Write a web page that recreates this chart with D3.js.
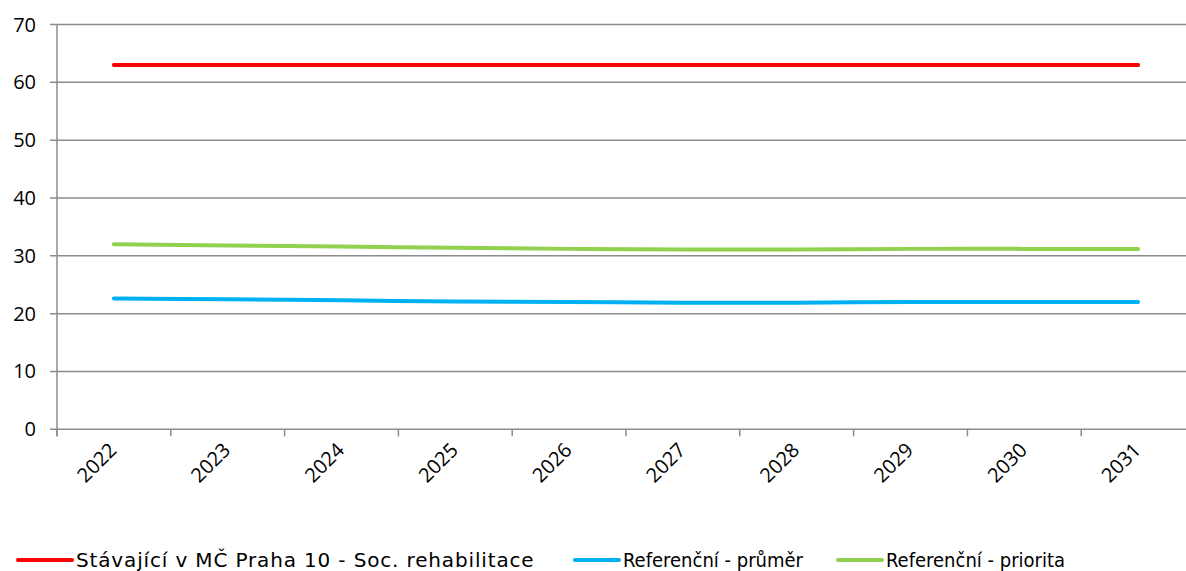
<!DOCTYPE html>
<html>
<head>
<meta charset="utf-8">
<script src="https://cdn.jsdelivr.net/npm/d3@7"></script>
<style>
  body { margin: 0; background: #fff; }
  svg { display: block; font-family: "Open Sans", sans-serif; }
</style>
</head>
<body>
<div id="drawing_region"></div>
<script>
const years = ["2022", "2023", "2024", "2025", "2026", "2027", "2028", "2029", "2030", "2031"];
const stavajici = [63, 63, 63, 63, 63, 63, 63, 63, 63, 63];
const prumer = [22.6, 22.5, 22.3, 22.1, 22.0, 21.9, 21.9, 22.0, 22.0, 22.0];
const priorita = [32.0, 31.8, 31.6, 31.4, 31.2, 31.1, 31.1, 31.2, 31.2, 31.2];
const yTicks = [0, 10, 20, 30, 40, 50, 60, 70];

const seriesNames = ["Stávající v MČ Praha 10 - Soc. rehabilitace", "Referenční - průměr", "Referenční - priorita"];
const seriesValues = [stavajici, prumer, priorita];
const colors = ["#ff0000", "#00b0f0", "#92d050"];

const width = 1186, height = 571;
const margin = {top: 24.5, left: 57, bottom: 142};
const plotRight = 1195;

const svg = d3.select('#drawing_region').append('svg')
    .attr('width', width)
    .attr('height', height);

const xscale = d3.scaleBand().domain(years).range([margin.left, plotRight]);
const yscale = d3.scaleLinear().domain([0, 70]).range([height - margin.bottom + 0.3, margin.top]);

// gridlines
svg.append('g')
    .selectAll('line')
    .data(yTicks)
    .join('line')
    .attr('x1', margin.left - 7)
    .attr('x2', plotRight)
    .attr('y1', d => yscale(d))
    .attr('y2', d => yscale(d))
    .attr('stroke', '#8c8c8c')
    .attr('stroke-width', 1.5);

// y axis line
svg.append('line')
    .attr('x1', margin.left).attr('x2', margin.left)
    .attr('y1', yscale(70)).attr('y2', yscale(0) + 7)
    .attr('stroke', '#8c8c8c')
    .attr('stroke-width', 1.5);

// y labels
svg.append('g')
    .selectAll('text')
    .data(yTicks)
    .join('text')
    .attr('x', 36)
    .attr('y', d => yscale(d))
    .attr('dy', '0.35em')
    .attr('text-anchor', 'end')
    .attr('font-size', 20)
    .attr('fill', '#000')
    .text(d => d);

// x ticks
const tickPos = years.map(y => xscale(y)).concat([plotRight]);
svg.append('g')
    .selectAll('line')
    .data(tickPos)
    .join('line')
    .attr('x1', d => d).attr('x2', d => d)
    .attr('y1', yscale(0)).attr('y2', yscale(0) + 7)
    .attr('stroke', '#8c8c8c')
    .attr('stroke-width', 1.5);

// x labels
svg.append('g')
    .selectAll('text')
    .data(years)
    .join('text')
    .attr('transform', d => `translate(${xscale(d) + xscale.bandwidth() / 2 + 4}, ${yscale(0) + 22}) rotate(-45)`)
    .attr('text-anchor', 'end')
    .attr('font-size', 20)
    .attr('fill', '#000')
    .text(d => d);

// lines
const line = d3.line()
    .x((d, i) => xscale(years[i]) + xscale.bandwidth() / 2)
    .y(d => yscale(d))
    .curve(d3.curveCatmullRom);

svg.append('g')
    .selectAll('path')
    .data(seriesValues)
    .join('path')
    .attr('d', d => line(d))
    .attr('fill', 'none')
    .attr('stroke', (d, i) => colors[i])
    .attr('stroke-width', 4)
    .attr('stroke-linecap', 'round');

// legend
const legendX = [18, 575, 838];
const legendLineLen = [54, 44, 44];
const legendFont = ['"DejaVu Sans", sans-serif', '"DejaVu Sans Condensed", "DejaVu Sans", sans-serif', '"DejaVu Sans Condensed", "DejaVu Sans", sans-serif'];
const legendSpacing = [0.85, 0, 0];
const legend = svg.append('g')
    .selectAll('g')
    .data(seriesNames)
    .join('g')
    .attr('transform', (d, i) => `translate(${legendX[i]}, 560)`);

legend.append('line')
    .attr('x1', 0).attr('x2', (d, i) => legendLineLen[i])
    .attr('stroke', (d, i) => colors[i])
    .attr('stroke-width', 4)
    .attr('stroke-linecap', 'round');

legend.append('text')
    .attr('x', (d, i) => legendLineLen[i] + 4)
    .attr('dy', '0.35em')
    .attr('font-size', 20)
    .attr('font-family', (d, i) => legendFont[i])
    .attr('letter-spacing', (d, i) => legendSpacing[i])
    .attr('fill', '#000')
    .text(d => d);
</script>
</body>
</html>
